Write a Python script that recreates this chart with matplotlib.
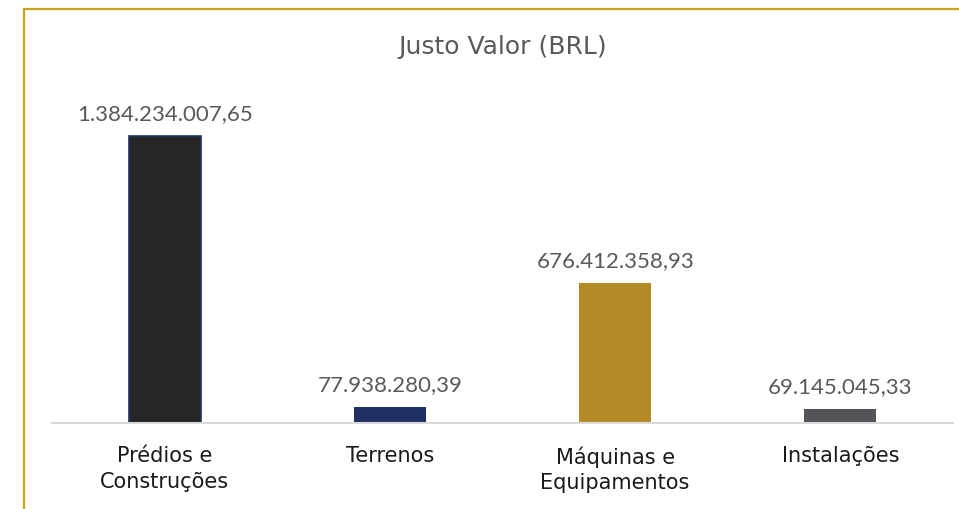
import matplotlib
matplotlib.use('Agg')
import matplotlib.pyplot as plt
from matplotlib.lines import Line2D

plt.rcParams['font.family'] = ['Lato', 'DejaVu Sans']

# dados
categorias = ['Prédios e\nConstruções', 'Terrenos', 'Máquinas e\nEquipamentos', 'Instalações']
valores = [1384234007.65, 77938280.39, 676412358.93, 69145045.33]
rotulos = ['1.384.234.007,65', '77.938.280,39', '676.412.358,93', '69.145.045,33']
cores = ['#262626', '#1F3064', '#B38A27', '#545458']

W, H = 959, 510
fig = plt.figure(figsize=(W / 100, H / 100), dpi=100)
fig.patch.set_facecolor('white')

# moldura dourada (so topo e esquerda aparecem)
ouro = '#C9A21E'
fig.add_artist(Line2D([24 / W, 1.0], [1 - 10 / H, 1 - 10 / H], color=ouro, lw=1.6, transform=fig.transFigure))
fig.add_artist(Line2D([24 / W, 24 / W], [0, 1 - 10 / H], color=ouro, lw=1.6, transform=fig.transFigure))

ax = fig.add_axes([52 / W, 86 / H, 901 / W, 394 / H])
x = range(len(categorias))
bars = ax.bar(x, valores, width=0.32, color=cores, zorder=2)
bars[0].set_edgecolor('#1F3064')
bars[0].set_linewidth(1.2)

ax.set_xlim(-0.5, len(categorias) - 0.5)
ax.set_ylim(0, valores[0] * 394 / 287)

for b, r in zip(bars, rotulos):
    ax.annotate(r, (b.get_x() + b.get_width() / 2, b.get_height()),
                xytext=(0, 9), textcoords='offset points',
                ha='center', va='bottom', fontsize=16, color='#595959')

for s in ['top', 'right', 'left']:
    ax.spines[s].set_visible(False)
ax.spines['bottom'].set_color('#D9D9D9')
ax.spines['bottom'].set_linewidth(1.5)
ax.set_yticks([])
ax.set_xticks(list(x))
ax.set_xticklabels(categorias, fontsize=15, color='#1a1a1a', linespacing=1.35,
                   family='DejaVu Sans')
ax.tick_params(axis='x', length=0, pad=16)

fig.text(503 / W, 1 - 47 / H, 'Justo Valor (BRL)', ha='center', va='center',
         fontsize=18, color='#595959', family='DejaVu Sans')

fig.savefig('out.png', dpi=100)
